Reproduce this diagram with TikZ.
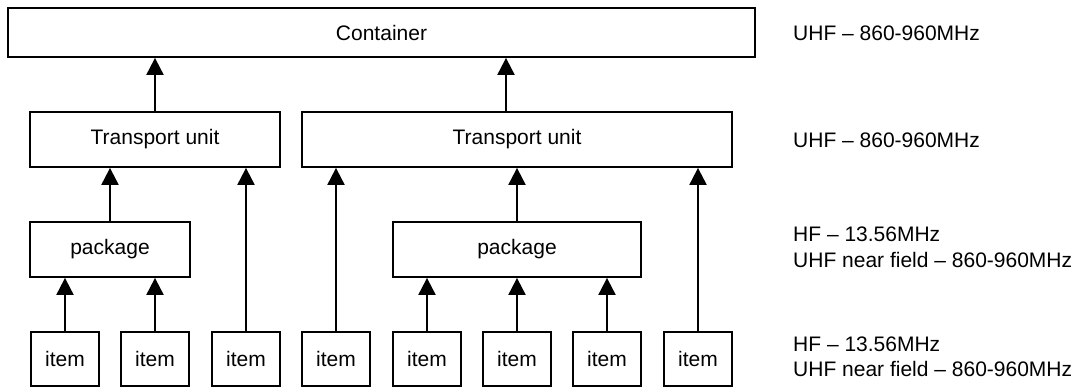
\documentclass[tikz,border=0pt]{standalone}
\usepackage{fontspec}
\setmainfont{Liberation Sans}
\usetikzlibrary{arrows.meta}
\begin{document}
\begin{tikzpicture}[x=1pt,y=-1pt,
  box/.style={draw, line width=1.8pt, rectangle, inner sep=0pt, font=\fontsize{21}{25}\selectfont},
  arr/.style={line width=2pt, -{Triangle[width=17pt,length=17pt]}},
  lbl/.style={anchor=base west, inner sep=0pt, align=left, font=\fontsize{21}{25}\selectfont}]
\useasboundingbox (0,0) rectangle (1083,387);
% boxes
\node[box, minimum width=747pt, minimum height=49pt] (cont) at (381.5,32.5) {Container};
\node[box, minimum width=250pt, minimum height=55pt] (tu1) at (155,139.5) {Transport unit};
\node[box, minimum width=430pt, minimum height=55pt] (tu2) at (517,139.5) {Transport unit};
\node[box, minimum width=160pt, minimum height=55pt] (pkg1) at (110,249.5) {package};
\node[box, minimum width=248pt, minimum height=55pt] (pkg2) at (517,249.5) {package};
\foreach \n/\x in {1/65,2/155,3/246,4/336,5/427,6/517,7/607,8/698}{
  \node[box, minimum width=68pt, minimum height=54pt] (item\n) at (\x,359) {item};
}
\coordinate (tu2up) at ([xshift=-11pt]tu2.north);
% arrows
\draw[arr] (tu1.north) -- (cont.south -| tu1.north);
\draw[arr] (tu2up) -- (cont.south -| tu2up);
\draw[arr] (pkg1.north) -- (tu1.south -| pkg1.north);
\draw[arr] (item3.north) -- (tu1.south -| item3.north);
\draw[arr] (item4.north) -- (tu2.south -| item4.north);
\draw[arr] (pkg2.north) -- (tu2.south -| pkg2.north);
\draw[arr] (item8.north) -- (tu2.south -| item8.north);
\draw[arr] (item1.north) -- (pkg1.south -| item1.north);
\draw[arr] (item2.north) -- (pkg1.south -| item2.north);
\draw[arr] (item5.north) -- (pkg2.south -| item5.north);
\draw[arr] (item6.north) -- (pkg2.south -| item6.north);
\draw[arr] (item7.north) -- (pkg2.south -| item7.north);
% labels
\node[lbl] (l1) at (793,40.5) {UHF – 860-960MHz};
\node[lbl] (l2) at (793,147.5) {UHF – 860-960MHz};
\node[lbl] (l3) at (793,267) {HF – 13.56MHz\\UHF near field – 860-960MHz};
\node[lbl] (l4) at (793,376) {HF – 13.56MHz\\UHF near field – 860-960MHz};
\end{tikzpicture}
\end{document}
